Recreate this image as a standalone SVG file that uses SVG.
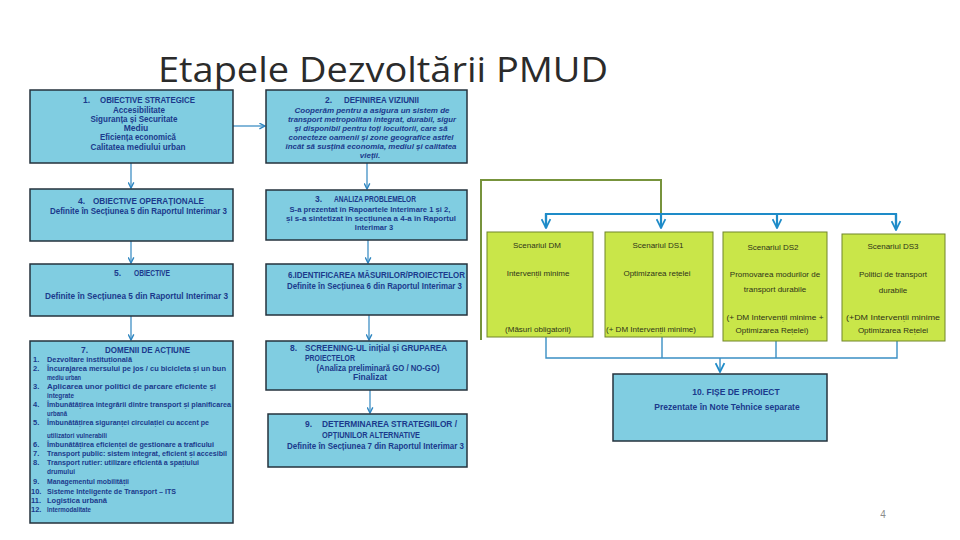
<svg xmlns="http://www.w3.org/2000/svg" width="960" height="540" viewBox="0 0 960 540">
<defs>
<style>
.bx{fill:#80cde1;stroke:#24323c;stroke-width:1.5}
.sc{fill:#c9e649;stroke:#70852a;stroke-width:1}
.t{font-family:"Liberation Sans",Arial,sans-serif;font-weight:bold;font-size:7.5px;fill:#1b3a8c}
.t8{font-family:"Liberation Sans",Arial,sans-serif;font-weight:bold;font-size:8.5px;fill:#1b3a8c}
.it{font-family:"Liberation Sans",Arial,sans-serif;font-weight:bold;font-style:italic;font-size:8px;fill:#1b3a8c}
.s{font-family:"Liberation Sans",Arial,sans-serif;font-size:8px;fill:#2e3319}
.m{text-anchor:middle}
.c{fill:none;stroke:#2f86c0;stroke-width:1.2}
.cb{fill:none;stroke:#1e8bc8;stroke-width:2.2}
.cb2{fill:none;stroke:#3a8fc4;stroke-width:1.4}
.g{fill:none;stroke:#77933c;stroke-width:2}
</style>
<marker id="ar" viewBox="0 0 10 10" refX="9" refY="5" markerWidth="7" markerHeight="7" markerUnits="userSpaceOnUse" orient="auto">
<path d="M1,1 L9,5 L1,9" fill="none" stroke="#2f86c0" stroke-width="2"/>
</marker>
<marker id="ar2" viewBox="0 0 10 10" refX="9" refY="5" markerWidth="11" markerHeight="11" markerUnits="userSpaceOnUse" orient="auto">
<path d="M1,1 L9,5 L1,9" fill="none" stroke="#1e8bc8" stroke-width="1.6"/>
</marker>
</defs>
<rect width="960" height="540" fill="#ffffff"/>

<g id="connectors">
<path class="c" d="M233,126 H265" marker-end="url(#ar)"/>
<path class="c" d="M131,163 V188" marker-end="url(#ar)"/>
<path class="c" d="M131,241 V263" marker-end="url(#ar)"/>
<path class="c" d="M131,316 V340" marker-end="url(#ar)"/>
<path class="c" d="M367,163 V189" marker-end="url(#ar)"/>
<path class="c" d="M368,240 V263" marker-end="url(#ar)"/>
<path class="c" d="M369,315 V340" marker-end="url(#ar)"/>
<path class="c" d="M370,390 V413" marker-end="url(#ar)"/>
<path class="g" d="M481,340 V180 H661 V214"/>
<path class="cb" d="M546,228 V214 H896 V228"/>
<path class="cb" d="M546,214 V228" marker-end="url(#ar2)"/>
<path class="cb" d="M661,214 V228" marker-end="url(#ar2)"/>
<path class="cb" d="M777,214 V228" marker-end="url(#ar2)"/>
<path class="cb" d="M896,214 V230" marker-end="url(#ar2)"/>
<path class="cb2" d="M546,337 V358 H897 V341 M662,337 V358 M776,341 V358"/>
<path class="cb2" d="M720,358 V372" marker-end="url(#ar2)"/>
</g>

<text x="158" y="82" textLength="450" lengthAdjust="spacingAndGlyphs" font-family="'Open Sans','Liberation Sans',sans-serif" font-size="35" fill="#2b2b2b">Etapele Dezvoltării PMUD</text>

<g id="n1">
<rect class="bx" x="30" y="90" width="203" height="73"/>
<text class="t8" x="83" y="103">1.</text>
<text class="t8" x="100" y="103" textLength="95" lengthAdjust="spacingAndGlyphs">OBIECTIVE STRATEGICE</text>
<text class="t8 m" x="139" y="113" textLength="52" lengthAdjust="spacingAndGlyphs">Accesibilitate</text>
<text class="t8 m" x="134" y="122" textLength="87" lengthAdjust="spacingAndGlyphs">Siguranța și Securitate</text>
<text class="t8 m" x="136" y="131">Mediu</text>
<text class="t8 m" x="138" y="140" textLength="76" lengthAdjust="spacingAndGlyphs">Eficiența economică</text>
<text class="t8 m" x="138" y="150" textLength="95" lengthAdjust="spacingAndGlyphs">Calitatea mediului urban</text>
</g>

<g id="n4">
<rect class="bx" x="30" y="189" width="203" height="52"/>
<text class="t8" x="78" y="204">4.</text>
<text class="t8" x="93" y="204" textLength="111" lengthAdjust="spacingAndGlyphs">OBIECTIVE OPERAȚIONALE</text>
<text class="t8" x="50" y="214" textLength="177" lengthAdjust="spacingAndGlyphs">Definite în Secțiunea 5 din Raportul Interimar 3</text>
</g>

<g id="n5">
<rect class="bx" x="30" y="264" width="203" height="52"/>
<text class="t8" x="114" y="276">5.</text>
<text class="t8" x="134" y="276" textLength="36" lengthAdjust="spacingAndGlyphs">OBIECTIVE</text>
<text class="t8" x="45" y="299" textLength="183" lengthAdjust="spacingAndGlyphs">Definite în Secțiunea 5 din Raportul Interimar 3</text>
</g>

<g id="n7">
<rect class="bx" x="30" y="341" width="203" height="182"/>
<text class="t8" x="81" y="353">7.</text>
<text class="t8" x="105" y="353" textLength="85" lengthAdjust="spacingAndGlyphs">DOMENII DE ACȚIUNE</text>
<text class="t" x="33" y="362">1.</text><text class="t" x="47" y="362" textLength="85" lengthAdjust="spacingAndGlyphs">Dezvoltare instituțională</text>
<text class="t" x="33" y="371">2.</text><text class="t" x="47" y="371" textLength="179" lengthAdjust="spacingAndGlyphs">Încurajarea mersului pe jos / cu bicicleta și un bun</text>
<text class="t" x="47" y="380" textLength="34" lengthAdjust="spacingAndGlyphs">mediu urban</text>
<text class="t" x="33" y="389">3.</text><text class="t" x="47" y="389" textLength="169" lengthAdjust="spacingAndGlyphs">Aplicarea unor politici de parcare eficiente și</text>
<text class="t" x="47" y="398" textLength="27" lengthAdjust="spacingAndGlyphs">integrate</text>
<text class="t" x="33" y="407">4.</text><text class="t" x="47" y="407" textLength="184" lengthAdjust="spacingAndGlyphs">Îmbunătățirea integrării dintre transport și planificarea</text>
<text class="t" x="47" y="416" textLength="20" lengthAdjust="spacingAndGlyphs">urbană</text>
<text class="t" x="33" y="425">5.</text><text class="t" x="47" y="425" textLength="162" lengthAdjust="spacingAndGlyphs">Îmbunătățirea siguranței circulației cu accent pe</text>
<text class="t" x="47" y="438" textLength="60" lengthAdjust="spacingAndGlyphs">utilizatori vulnerabili</text>
<text class="t" x="33" y="447">6.</text><text class="t" x="47" y="447" textLength="167" lengthAdjust="spacingAndGlyphs">Îmbunătățirea eficienței de gestionare a traficului</text>
<text class="t" x="33" y="456">7.</text><text class="t" x="47" y="456" textLength="180" lengthAdjust="spacingAndGlyphs">Transport public: sistem integrat, eficient și accesibil</text>
<text class="t" x="33" y="465">8.</text><text class="t" x="47" y="465" textLength="152" lengthAdjust="spacingAndGlyphs">Transport rutier: utilizare eficientă a spațiului</text>
<text class="t" x="47" y="474" textLength="28" lengthAdjust="spacingAndGlyphs">drumului</text>
<text class="t" x="33" y="484">9.</text><text class="t" x="47" y="484" textLength="82" lengthAdjust="spacingAndGlyphs">Managementul mobilității</text>
<text class="t" x="31" y="494">10.</text><text class="t" x="47" y="494" textLength="129" lengthAdjust="spacingAndGlyphs">Sisteme Inteligente de Transport – ITS</text>
<text class="t" x="31" y="503">11.</text><text class="t" x="47" y="503" textLength="60" lengthAdjust="spacingAndGlyphs">Logistica urbană</text>
<text class="t" x="31" y="512">12.</text><text class="t" x="47" y="512" textLength="44" lengthAdjust="spacingAndGlyphs">Intermodalitate</text>
</g>

<g id="n2">
<rect class="bx" x="266" y="90" width="201" height="73"/>
<text class="t8" x="325" y="103">2.</text>
<text class="t8" x="344" y="103" textLength="75" lengthAdjust="spacingAndGlyphs">DEFINIREA VIZIUNII</text>
<text class="it m" x="372" y="112.5" textLength="155" lengthAdjust="spacingAndGlyphs">Cooperăm pentru a asigura un sistem de</text>
<text class="it m" x="372" y="121.5" textLength="168" lengthAdjust="spacingAndGlyphs">transport metropolitan integrat, durabil, sigur</text>
<text class="it m" x="371" y="130.5" textLength="153" lengthAdjust="spacingAndGlyphs">și disponibil pentru toți locuitorii, care să</text>
<text class="it m" x="371" y="140" textLength="165" lengthAdjust="spacingAndGlyphs">conecteze oamenii și zone geografice astfel</text>
<text class="it m" x="371" y="149" textLength="171" lengthAdjust="spacingAndGlyphs">încât să susțină economia, mediul și calitatea</text>
<text class="it m" x="370" y="158">vieții.</text>
</g>

<g id="n3">
<rect class="bx" x="266" y="190" width="201" height="50"/>
<text class="t8" x="315" y="202">3.</text>
<text class="t8" x="334" y="202" textLength="82" lengthAdjust="spacingAndGlyphs">ANALIZA PROBLEMELOR</text>
<text class="t m" x="370" y="212" textLength="161" lengthAdjust="spacingAndGlyphs">S-a prezentat în Rapoartele Interimare 1 și 2,</text>
<text class="t m" x="371" y="221" textLength="170" lengthAdjust="spacingAndGlyphs">și s-a sintetizat în secțiunea a 4-a în Raportul</text>
<text class="t m" x="374" y="230">Interimar 3</text>
</g>

<g id="n6">
<rect class="bx" x="266" y="264" width="201" height="51"/>
<text class="t8" x="288" y="278" textLength="177" lengthAdjust="spacingAndGlyphs">6.IDENTIFICAREA MĂSURILOR/PROIECTELOR</text>
<text class="t8" x="287" y="289" textLength="175" lengthAdjust="spacingAndGlyphs">Definite în Secțiunea 6 din Raportul Interimar 3</text>
</g>

<g id="n8">
<rect class="bx" x="266" y="341" width="201" height="49"/>
<text class="t8" x="290" y="351">8.</text>
<text class="t8" x="305" y="351" textLength="142" lengthAdjust="spacingAndGlyphs">SCREENING-UL inițial și GRUPAREA</text>
<text class="t8" x="305" y="361" textLength="50" lengthAdjust="spacingAndGlyphs">PROIECTELOR</text>
<text class="t8 m" x="378" y="371" textLength="123" lengthAdjust="spacingAndGlyphs">(Analiza preliminară GO / NO-GO)</text>
<text class="t8 m" x="370" y="380">Finalizat</text>
</g>

<g id="n9">
<rect class="bx" x="268" y="414" width="199" height="53"/>
<text class="t8" x="305" y="427">9.</text>
<text class="t8" x="322" y="427" textLength="135" lengthAdjust="spacingAndGlyphs">DETERMINAREA STRATEGIILOR /</text>
<text class="t8" x="322" y="438" textLength="98" lengthAdjust="spacingAndGlyphs">OPȚIUNILOR ALTERNATIVE</text>
<text class="t8" x="287" y="449" textLength="177" lengthAdjust="spacingAndGlyphs">Definite în Secțiunea 7 din Raportul Interimar 3</text>
</g>

<g id="dm">
<rect class="sc" x="487" y="232" width="106" height="105"/>
<text class="s m" x="537" y="248">Scenariul DM</text>
<text class="s m" x="538" y="276">Intervenții minime</text>
<text class="s m" x="538" y="332">(Măsuri obligatorii)</text>
</g>

<g id="ds1">
<rect class="sc" x="605" y="232" width="108" height="105"/>
<text class="s m" x="658" y="248">Scenariul DS1</text>
<text class="s m" x="657" y="276">Optimizarea rețelei</text>
<text class="s m" x="651" y="332" textLength="90" lengthAdjust="spacingAndGlyphs">(+ DM Intervenții minime)</text>
</g>

<g id="ds2">
<rect class="sc" x="723" y="232" width="104" height="109"/>
<text class="s m" x="773" y="250">Scenariul DS2</text>
<text class="s m" x="775" y="277">Promovarea modurilor de</text>
<text class="s m" x="775" y="292">transport durabile</text>
<text class="s m" x="775" y="320" textLength="97" lengthAdjust="spacingAndGlyphs">(+ DM Intervenții minime +</text>
<text class="s m" x="772" y="333">Optimizarea Rețelei)</text>
</g>

<g id="ds3">
<rect class="sc" x="842" y="234" width="103" height="107"/>
<text class="s m" x="893" y="249">Scenariul DS3</text>
<text class="s m" x="893" y="277">Politici de transport</text>
<text class="s m" x="893" y="293">durabile</text>
<text class="s m" x="893" y="320" textLength="94" lengthAdjust="spacingAndGlyphs">(+DM Intervenții minime</text>
<text class="s m" x="893" y="333">Optimizarea Rețelei</text>
</g>

<g id="n10">
<rect class="bx" x="613" y="374" width="214" height="67"/>
<text class="t8 m" x="736" y="395" font-size="9.5">10.  FIȘE DE PROIECT</text>
<text class="t8 m" x="727" y="410" font-size="9.5" font-weight="normal">Prezentate în Note Tehnice separate</text>
</g>

<text x="883" y="518" text-anchor="middle" font-family="'Liberation Sans',Arial,sans-serif" font-size="10" fill="#8c8c8c">4</text>
</svg>
